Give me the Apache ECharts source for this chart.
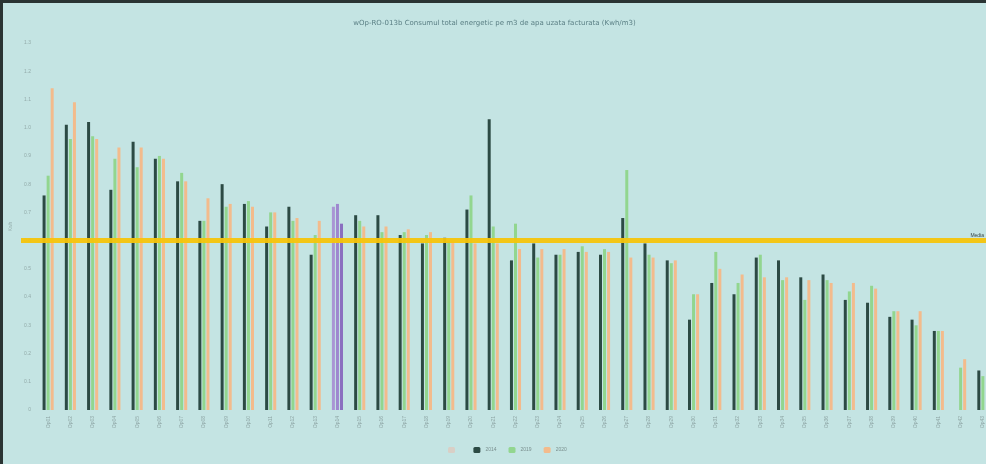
<!DOCTYPE html>
<html>
<head>
<meta charset="utf-8">
<script src="https://cdn.jsdelivr.net/npm/echarts@6/dist/echarts.min.js"></script>
<style>
  html, body { margin: 0; padding: 0; background: #c4e4e3; overflow: hidden; }
  #frame { position: absolute; left: 0; top: 0; width: 983px; height: 461px; border-left: 3px solid #2a3433; border-top: 3px solid #2a3433; }
  #chart { width: 983px; height: 461px; }
</style>
</head>
<body>
<div id="frame"><div id="chart"></div></div>
<script>
var operators = ['Op01','Op02','Op03','Op04','Op05','Op06','Op07','Op08','Op09','Op10','Op11','Op12','Op13','Op14','Op15','Op16','Op17','Op18','Op19','Op20','Op21','Op22','Op23','Op24','Op25','Op26','Op27','Op28','Op29','Op30','Op31','Op32','Op33','Op34','Op35','Op36','Op37','Op38','Op39','Op40','Op41','Op42','Op43'];
var v2014 = [0.76,1.01,1.02,0.78,0.95,0.89,0.81,0.67,0.80,0.73,0.65,0.72,0.55,0.72,0.69,0.69,0.62,0.59,0.61,0.71,1.03,0.53,0.59,0.55,0.56,0.55,0.68,0.59,0.53,0.32,0.45,0.41,0.54,0.53,0.47,0.48,0.39,0.38,0.33,0.32,0.28,null,0.14];
var v2019 = [0.83,0.96,0.97,0.89,0.86,0.90,0.84,0.67,0.72,0.74,0.70,0.67,0.62,0.73,0.67,0.63,0.63,0.62,0.60,0.76,0.65,0.66,0.54,0.55,0.58,0.57,0.85,0.55,0.52,0.41,0.56,0.45,0.55,0.46,0.39,0.46,0.42,0.44,0.35,0.30,0.28,0.15,0.12];
var v2020 = [1.14,1.09,0.96,0.93,0.93,0.89,0.81,0.75,0.73,0.72,0.70,0.68,0.67,0.66,0.65,0.65,0.64,0.63,0.60,0.59,0.59,0.57,0.57,0.57,0.56,0.56,0.54,0.54,0.53,0.41,0.50,0.48,0.47,0.47,0.46,0.45,0.45,0.43,0.35,0.35,0.28,0.18,null];
var media = 0.6;
var highlightIndex = 13;
var purple = ['#a995d4', '#9e87cf', '#8a6fc0'];

function mark(values, k) {
  return values.map(function (v, i) {
    if (i === highlightIndex) return { value: v, itemStyle: { color: purple[k] } };
    return v;
  });
}

var myChart = echarts.init(document.getElementById('chart'), null, { renderer: 'canvas' });
var option = {
  backgroundColor: '#c4e4e3',
  animation: false,
  title: {
    text: 'wOp-RO-013b Consumul total energetic pe m3 de apa uzata facturata (Kwh/m3)',
    left: 'center',
    top: 12,
    textStyle: { fontSize: 7, fontWeight: 'normal', color: '#5a7f84', fontFamily: 'DejaVu Sans' }
  },
  legend: {
    bottom: 6,
    left: 440,
    itemWidth: 7,
    itemHeight: 6,
    itemGap: 12,
    textStyle: { fontSize: 5, color: '#7a8f8e' },
    data: [
      { name: ' ', icon: 'roundRect', itemStyle: { color: '#d9cfc6' }, textStyle: { color: 'transparent' } },
      { name: '2014', icon: 'roundRect' },
      { name: '2019', icon: 'roundRect' },
      { name: '2020', icon: 'roundRect' }
    ]
  },
  grid: { left: 34, right: -8, top: 40, bottom: 54, containLabel: false, outerBoundsMode: 'none' },
  xAxis: {
    type: 'category',
    data: operators,
    axisTick: { show: false },
    axisLine: { show: false },
    axisLabel: { rotate: 90, fontSize: 5, color: '#8ea5a4', margin: 6 }
  },
  yAxis: {
    type: 'value',
    min: 0,
    max: 1.3,
    interval: 0.1,
    name: 'Kwh',
    nameLocation: 'middle',
    nameGap: 18,
    nameTextStyle: { fontSize: 5, color: '#93abaa' },
    axisLine: { show: false },
    axisTick: { show: false },
    splitLine: { show: false },
    axisLabel: { fontSize: 5, color: '#93abaa', margin: 6, formatter: function (v) { return v === 0 ? '0' : v.toFixed(1); } }
  },
  series: [
    {
      name: ' ', type: 'line', data: [], itemStyle: { color: '#d9cfc6' }
    },
    {
      name: '2014', type: 'bar', data: mark(v2014, 0),
      barWidth: 3, barGap: '35%',
      itemStyle: { color: '#2c4a44' },
      markLine: {
        silent: true,
        symbol: 'none',
        data: [[{ x: 18, yAxis: media }, { x: '100%', yAxis: media }]],
        lineStyle: { color: '#f5c40c', width: 5, type: 'solid', opacity: 0.95 },
        label: { show: true, position: 'insideEndTop', formatter: 'Media', fontSize: 5, color: '#2b3a3a', distance: 2 }
      }
    },
    {
      name: '2019', type: 'bar', data: mark(v2019, 1),
      barWidth: 3, barGap: '35%',
      itemStyle: { color: '#92d68f' }
    },
    {
      name: '2020', type: 'bar', data: mark(v2020, 2),
      barWidth: 3, barGap: '35%',
      itemStyle: { color: '#f3bb8c' }
    }
  ]
};
myChart.setOption(option);
window.addEventListener('resize', myChart.resize);
</script>
</body>
</html>
